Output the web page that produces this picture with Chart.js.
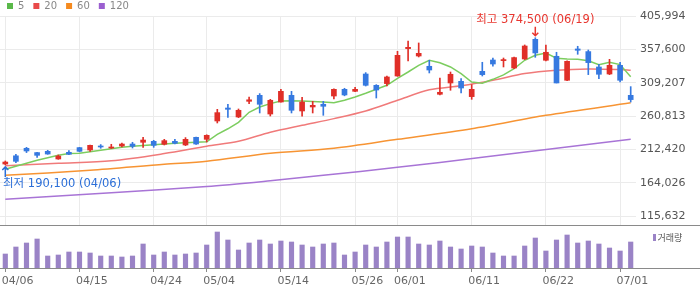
<!DOCTYPE html>
<html>
<head>
<meta charset="utf-8">
<script src="https://cdn.jsdelivr.net/npm/chart.js@4"></script>
<style>
  body { margin: 0; background: #fff; }
  canvas { display: block; }
</style>
</head>
<body>
<canvas id="priceChart" width="700" height="225"></canvas>
<canvas id="volumeChart" width="700" height="64"></canvas>
<script>
// trading days shown on the chart
const dates = [
  "04/06", "04/07", "04/08", "04/09", "04/10", "04/13", "04/14", "04/15", "04/16", "04/17",
  "04/20", "04/21", "04/22", "04/23", "04/24", "04/27", "04/28", "04/29", "04/30", "05/04",
  "05/06", "05/07", "05/08", "05/11", "05/12", "05/13", "05/14", "05/15", "05/18", "05/19",
  "05/20", "05/21", "05/22", "05/26", "05/27", "05/28", "05/29", "06/01", "06/02", "06/04",
  "06/05", "06/08", "06/09", "06/10", "06/11", "06/12", "06/15", "06/16", "06/17", "06/18",
  "06/19", "06/22", "06/23", "06/24", "06/25", "06/26", "06/29", "06/30", "07/01", "07/02"
];
const tickDates = ["04/06", "04/15", "04/24", "05/04", "05/14", "05/26", "06/01", "06/11", "06/22", "07/01"];
const yTicks = [115632, 164026, 212420, 260813, 309207, 357600, 405994];

const opens = [
  191400, 203300, 214200, 208000, 209800, 198700, 208400, 215200, 211700, 217500,
  214600, 217500, 220400, 222900, 224300, 220000, 224300, 219000, 230100, 227200,
  253800, 272600, 259600, 282300, 291000, 263900, 281300, 291000, 268300, 274100,
  278000, 290000, 299700, 296800, 321900, 305500, 308000, 319000, 358700, 348000,
  333100, 292500, 308900, 311300, 289100, 325800, 342200, 341300, 330600, 343700,
  372200, 341800, 347600, 312800, 358200, 354400, 332100, 321900, 334500, 291000
];
const highs = [
  195800, 205500, 215600, 208400, 211300, 204500, 210900, 215600, 219000, 219600,
  220000, 221900, 222900, 230100, 225800, 227200, 227200, 229700, 230600, 233800,
  270700, 278000, 271200, 288600, 293500, 285200, 299700, 296800, 288100, 282300,
  282300, 300400, 301200, 302600, 323900, 306500, 319000, 354800, 369700, 366900,
  341800, 316100, 324800, 315200, 306500, 338900, 345100, 345100, 346600, 364000,
  374500, 364000, 353400, 340900, 362100, 356700, 336000, 343200, 338900, 303600
];
const lows = [
  190100, 193200, 208000, 201100, 205500, 198200, 205100, 209100, 209800, 214200,
  213800, 216100, 214600, 215600, 215600, 219000, 220400, 218100, 220000, 223300,
  250900, 259100, 258700, 279000, 265400, 261000, 280900, 265400, 260600, 265400,
  262000, 285700, 290300, 296400, 304500, 287100, 304500, 318600, 340800, 346600,
  323400, 291500, 298300, 294400, 285200, 319000, 333100, 332100, 329700, 342800,
  346100, 340800, 308900, 312300, 350500, 321000, 315200, 321000, 310300, 281300
];
const closes = [
  194300, 195300, 210300, 204000, 205900, 203000, 205500, 209800, 218500, 216100,
  216100, 220400, 217100, 226200, 218500, 225300, 221400, 227200, 220400, 233000,
  265900, 270700, 269300, 284500, 278000, 283800, 296800, 269300, 281300, 276500,
  275100, 299700, 291500, 299700, 305500, 298700, 317600, 349000, 360600, 351900,
  327700, 295400, 321500, 301600, 299700, 321000, 336400, 342800, 345700, 362500,
  352400, 353400, 308900, 340300, 356300, 338400, 321500, 334500, 312800, 284800
];
// volume, thousand shares
const volumes = [
  140, 210, 250, 290, 120, 130, 160, 160, 150, 120,
  120, 110, 120, 240, 130, 160, 130, 140, 150, 230,
  360, 280, 180, 250, 280, 240, 270, 260, 230, 210,
  240, 250, 130, 160, 230, 210, 260, 310, 310, 240,
  230, 270, 210, 190, 220, 210, 150, 120, 120, 220,
  300, 170, 280, 330, 250, 270, 240, 200, 170, 260
];

// moving averages
const ma5 = [
  183700, 188100, 192400, 196800, 200400, 204000, 206500, 206900, 209100, 211300,
  213500, 215600, 217100, 218100, 219300, 220400, 221400, 222200, 222900, 223600,
  234500, 242500, 251900, 266400, 274100, 279000, 282800, 283100, 282800, 281900,
  281300, 280400, 283800, 288600, 293900, 299700, 305500, 315700, 324800, 334500,
  341800, 338100, 332100, 322500, 310300, 308400, 314200, 320700, 329700, 341800,
  349000, 352400, 344700, 343700, 343200, 341000, 335500, 338900, 335500, 317800
];
const ma20Idx = [0, 5, 10, 15, 19, 22, 25, 28, 31, 34, 37, 40, 43, 46, 49, 52, 55, 58, 59];
const ma20 = [188800, 192400, 196100, 206500, 217100, 224300, 237400, 247500, 257200, 268300,
  283800, 299000, 304800, 312800, 322500, 327300, 329200, 328300, 327300];
const ma60Idx = [0, 8, 15, 19, 25, 31, 37, 44, 51, 59];
const ma60 = [175000, 182300, 191000, 195300, 206900, 214200, 227200, 242700, 262000, 280200];
const ma120Idx = [0, 10, 19, 25, 30, 37, 45, 52, 59];
const ma120 = [140200, 149700, 158700, 167100, 175000, 186600, 201100, 214200, 227200];

const upColor = "#e02f28";
const downColor = "#3679e0";
const volumeColor = "#9a83c6";
const maColors = ["#7ccd5f", "#f07a7a", "#f79433", "#a874d6"];
const maBoxColors = ["#5ab94a", "#e94a4a", "#f58a1f", "#9b5fd0"];

Chart.defaults.font.family = "'DejaVu Sans', 'Noto Sans CJK KR', sans-serif";

const candleColors = closes.map((c, i) => (c >= opens[i] ? upColor : downColor));
const isTick = (i) => tickDates.includes(dates[i]);
const points = (idx, vals) => idx.map((i, k) => ({ x: dates[i], y: vals[k] }));

function drawMark(chart, idx, value, word, color, dir) {
    const { ctx, chartArea, scales } = chart;
    const px = scales.x.getPixelForValue(idx);
    const py = scales.y.getPixelForValue(value);
    const text = word + " " + value.toLocaleString("en-US") + " (" + dates[idx] + ")";

    ctx.strokeStyle = color;
    ctx.fillStyle = color;
    ctx.lineWidth = 1.5;
    ctx.beginPath();
    if (dir < 0) {
        ctx.moveTo(px, py - 11);
        ctx.lineTo(px, py - 2);
        ctx.moveTo(px - 3, py - 5);
        ctx.lineTo(px, py - 2);
        ctx.lineTo(px + 3, py - 5);
    } else {
        ctx.moveTo(px, py + 12);
        ctx.lineTo(px, py + 2);
        ctx.moveTo(px - 3, py + 5);
        ctx.lineTo(px, py + 2);
        ctx.lineTo(px + 3, py + 5);
    }
    ctx.stroke();

    ctx.font = "11.5px 'DejaVu Sans', 'Noto Sans CJK KR'";
    ctx.textBaseline = "middle";
    const w = ctx.measureText(text).width;
    let tx = px - w / 2;
    tx = Math.max(chartArea.left + 3, Math.min(tx, chartArea.right - w - 3));
    ctx.fillText(text, tx, dir < 0 ? py - 18 : py + 19.5);
}

const priceExtras = {
    id: "priceExtras",
    afterDatasetsDraw(chart) {
        const ctx = chart.ctx;
        ctx.save();

        // legend
        ctx.font = "10px 'DejaVu Sans'";
        ctx.textBaseline = "middle";
        let x = 7;
        ["5", "20", "60", "120"].forEach((label, i) => {
            ctx.fillStyle = maBoxColors[i];
            ctx.fillRect(x, 3, 6, 6);
            ctx.fillStyle = "#888";
            ctx.fillText(label, x + 11, 6.5);
            x += 11 + ctx.measureText(label).width + 9;
        });

        // high / low marks
        const hi = highs.indexOf(Math.max(...highs));
        const lo = lows.indexOf(Math.min(...lows));
        drawMark(chart, hi, highs[hi], "최고", "#e8362f", -1);
        drawMark(chart, lo, lows[lo], "최저", "#2c6fd8", 1);
        ctx.restore();
    }
};

const volumeExtras = {
    id: "volumeExtras",
    afterDraw(chart) {
        const { ctx, chartArea, width } = chart;
        ctx.save();
        ctx.strokeStyle = "#8a8a8a";
        ctx.lineWidth = 1;
        ctx.beginPath();
        ctx.moveTo(0, chartArea.top + 0.5);
        ctx.lineTo(width, chartArea.top + 0.5);
        ctx.moveTo(0, chartArea.bottom + 0.5);
        ctx.lineTo(width, chartArea.bottom + 0.5);
        ctx.stroke();

        ctx.fillStyle = volumeColor;
        ctx.fillRect(chartArea.right + 17, chartArea.top + 9, 3, 7);
        ctx.fillStyle = "#555";
        ctx.font = "9px 'Noto Sans CJK KR'";
        ctx.textBaseline = "middle";
        ctx.fillText("거래량", chartArea.right + 21.5, chartArea.top + 13);
        ctx.restore();
    }
};

new Chart(document.getElementById("priceChart"), {
    type: "bar",
    data: {
        labels: dates,
        datasets: [{
            label: "body",
            data: dates.map((d, i) => [opens[i], closes[i]]),
            backgroundColor: candleColors,
            barThickness: 5,
            minBarLength: 1,
            grouped: false,
        }, {
            label: "wick",
            data: dates.map((d, i) => [lows[i], highs[i]]),
            backgroundColor: candleColors,
            barThickness: 1,
            grouped: false,
        }, {
            type: "line",
            label: "5",
            data: ma5,
            borderColor: maColors[0],
            borderWidth: 1.5,
            pointRadius: 0,
        }, {
            type: "line",
            label: "20",
            data: points(ma20Idx, ma20),
            borderColor: maColors[1],
            borderWidth: 1.5,
            pointRadius: 0,
            tension: 0.3,
        }, {
            type: "line",
            label: "60",
            data: points(ma60Idx, ma60),
            borderColor: maColors[2],
            borderWidth: 1.5,
            pointRadius: 0,
            tension: 0.3,
        }, {
            type: "line",
            label: "120",
            data: points(ma120Idx, ma120),
            borderColor: maColors[3],
            borderWidth: 1.5,
            pointRadius: 0,
            tension: 0.3,
        }],
    },
    options: {
        responsive: false,
        animation: false,
        layout: { padding: { top: 16, left: 0, right: 0, bottom: 0 } },
        plugins: { legend: { display: false }, tooltip: { enabled: false } },
        scales: {
            x: {
                offset: true,
                grid: {
                    offset: false,
                    drawTicks: false,
                    color: (c) => (isTick(c.index) ? "#ebebeb" : "transparent"),
                },
                ticks: { display: false, autoSkip: false },
                border: { display: false },
                afterFit: (s) => { s.height = 0; s.paddingLeft = 0; s.paddingRight = 0; },
            },
            y: {
                position: "right",
                min: 103000,
                max: 405994,
                afterBuildTicks: (s) => { s.ticks = yTicks.map((v) => ({ value: v })); },
                ticks: {
                    padding: 4,
                    color: "#555",
                    font: { size: 11 },
                    callback: (v) => v.toLocaleString("en-US"),
                },
                grid: { color: "#ebebeb", drawTicks: false },
                border: { display: false },
                afterFit: (s) => { s.width = 64; s.paddingTop = 0; s.paddingBottom = 0; },
            },
        },
    },
    plugins: [priceExtras],
});

new Chart(document.getElementById("volumeChart"), {
    type: "bar",
    data: {
        labels: dates,
        datasets: [{
            label: "거래량",
            data: volumes,
            backgroundColor: volumeColor,
            barThickness: 4.5,
        }],
    },
    options: {
        responsive: false,
        animation: false,
        layout: { padding: 0 },
        plugins: { legend: { display: false }, tooltip: { enabled: false } },
        scales: {
            x: {
                offset: true,
                grid: {
                    offset: false,
                    drawOnChartArea: false,
                    tickLength: 4,
                    color: (c) => (isTick(c.index) ? "#8a8a8a" : "transparent"),
                },
                border: { display: false },
                ticks: {
                    autoSkip: false,
                    maxRotation: 0,
                    minRotation: 0,
                    align: "start",
                    labelOffset: -3.5,
                    padding: 3,
                    color: "#666",
                    font: { size: 11 },
                    callback: (v, i) => (isTick(i) ? dates[i] : ""),
                },
                afterFit: (s) => { s.height = 21; s.paddingLeft = 0; s.paddingRight = 0; },
            },
            y: {
                position: "right",
                min: 0,
                max: 430,
                ticks: { display: false },
                grid: { display: false },
                border: { display: false },
                afterFit: (s) => { s.width = 64; s.paddingTop = 0; s.paddingBottom = 0; },
            },
        },
    },
    plugins: [volumeExtras],
});
</script>
</body>
</html>
